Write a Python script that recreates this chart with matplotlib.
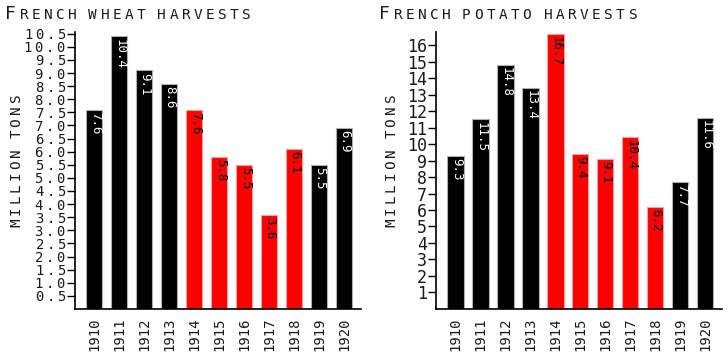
import numpy as np
import matplotlib.pyplot as plt

# -----------------------------
# Data
# -----------------------------
years = ["1910", "1911", "1912", "1913", "1914", "1915",
         "1916", "1917", "1918", "1919", "1920"]
wheat = [7.6, 10.4, 9.1, 8.6, 7.6, 5.8, 5.5, 3.6, 6.1, 5.5, 6.9]
potato = [9.3, 11.5, 14.8, 13.4, 16.7, 9.4, 9.1, 10.4, 6.2, 7.7, 11.6]
war_years = ["1914", "1915", "1916", "1917", "1918"]

wheat_ticks = np.arange(0.5, 10.51, 0.5)
potato_ticks = np.arange(1, 17, 1)

INK = "#1a1a1a"
plt.rcParams["font.family"] = "DejaVu Sans Mono"

fig = plt.figure(figsize=(7.28, 3.63), dpi=100)


def tracked(s, gap=0.22):
    # letter-spaced text; mathtext already pads after a "."
    out = ""
    for i, c in enumerate(s):
        out += r"\ " if c == " " else c
        if i < len(s) - 1 and c != ".":
            out += r"\hspace{%g}" % gap
    return r"$\mathregular{" + out + "}$"


def draw_panel(rect, values, ticks, ymax, tick_labels, tick_fs, title_rest,
               title_x, ylab_x):
    ax = fig.add_axes(rect)
    x = np.arange(len(years))
    colors = ["red" if y in war_years else "black" for y in years]
    edges = ["#f4a0a0" if y in war_years else "#b0b0b0" for y in years]
    ax.bar(x, values, width=0.66, color=colors, edgecolor=edges, linewidth=0.8)

    for xi, v, c in zip(x, values, colors):
        ax.text(xi + 0.04, v - ymax * 0.008, "%.1f" % v, rotation=-90,
                ha="center", va="top", fontsize=9,
                color="white" if c == "black" else "black")

    ax.set_xlim(-0.77, 10.68)
    ax.set_ylim(0, ymax)
    ax.set_xticks(x)
    ax.set_xticklabels(years, rotation=90, fontsize=10, color=INK)
    ax.tick_params(axis="x", length=0, pad=6)
    ax.set_yticks(ticks)
    ax.set_yticklabels(tick_labels, fontsize=tick_fs, color=INK)
    ax.tick_params(axis="y", length=6, width=1, pad=0.5)
    for s in ["top", "right"]:
        ax.spines[s].set_visible(False)
    for s in ["left", "bottom"]:
        ax.spines[s].set_linewidth(1.2)

    # small-caps style title
    fig.text(title_x, 0.947, "F", fontsize=13, color=INK, va="baseline")
    fig.text(title_x + 0.019, 0.947, tracked(title_rest, 0.25), fontsize=10.4,
             color=INK, va="baseline")
    fig.text(ylab_x, 1 - 161 / 363, tracked("MILLION TONS"), rotation=90,
             fontsize=10.3, color=INK, ha="center", va="center")
    return ax


draw_panel([0.103, 0.149, 0.393, 0.763], wheat, wheat_ticks, 10.57,
           [tracked("%.1f" % t, 0.2) for t in wheat_ticks], 10,
           "RENCH WHEAT HARVESTS", 0.007, 0.024)
draw_panel([0.599, 0.149, 0.393, 0.763], potato, potato_ticks, 16.8,
           ["%d" % t for t in potato_ticks], 12,
           "RENCH POTATO HARVESTS", 0.521, 0.538)

fig.savefig("out.png", dpi=100)
